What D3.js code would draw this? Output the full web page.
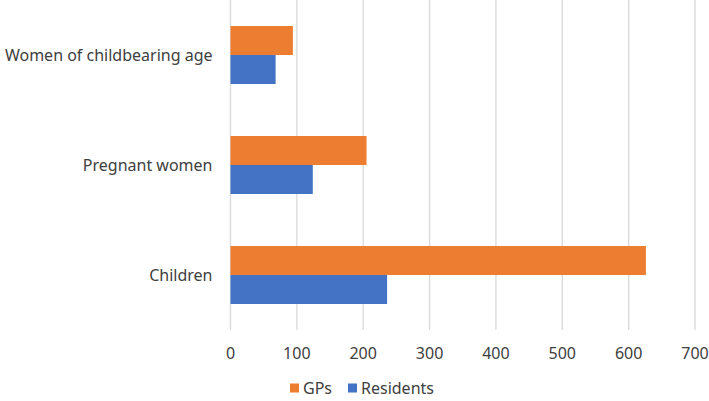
<!DOCTYPE html>
<html>
<head>
<meta charset="utf-8">
<script src="https://d3js.org/d3.v7.min.js"></script>
<style>
  body { margin: 0; background: #fff; }
  text { font-family: "Noto Sans", sans-serif; fill: #404040; }
</style>
</head>
<body>
<div id="chart"></div>
<script>
// data
var categories = ["Women of childbearing age", "Pregnant women", "Children"];
var seriesNames = ["GPs", "Residents"];
var gps = [94, 205, 626];
var residents = [68, 124, 236];
var xTicks = [0, 100, 200, 300, 400, 500, 600, 700];
var colors = ["#ED7D31", "#4472C4"];

var width = 709, height = 401;
var margin = {left: 230.5, right: 14, top: 0, bottom: 71};
var w = width - margin.left - margin.right;
var h = height - margin.top - margin.bottom;

var svg = d3.select("#chart").append("svg")
  .attr("width", width)
  .attr("height", height);

var g = svg.append("g")
  .attr("transform", "translate(" + margin.left + "," + margin.top + ")");

var xs = d3.scaleLinear().domain([0, 700]).range([0, w]);
var ys = d3.scaleBand().domain(categories).range([0, h])
  .paddingInner(0.4727).paddingOuter(0.4727 / 2);
var inner = d3.scaleBand().domain(seriesNames).range([0, ys.bandwidth()]);

// gridlines
g.selectAll("line.grid")
  .data(xTicks)
  .enter()
  .append("line")
  .attr("x1", function(d) { return xs(d); })
  .attr("x2", function(d) { return xs(d); })
  .attr("y1", 0)
  .attr("y2", h)
  .attr("stroke", "#d9d9d9")
  .attr("stroke-width", 1.3);

// tick labels
g.selectAll("text.tick")
  .data(xTicks)
  .enter()
  .append("text")
  .attr("x", function(d) { return xs(d); })
  .attr("y", h + 23)
  .attr("dy", "0.35em")
  .attr("text-anchor", "middle")
  .style("font-size", "16px")
  .text(function(d) { return d; });

var rows = categories.map(function(c, i) {
  return {cat: c, values: [gps[i], residents[i]]};
});

var group = g.selectAll("g.cat")
  .data(rows)
  .enter()
  .append("g")
  .attr("transform", function(d) { return "translate(0," + ys(d.cat) + ")"; });

group.selectAll("rect")
  .data(function(d) { return d.values.map(function(v, j) { return {name: seriesNames[j], v: v, j: j}; }); })
  .enter()
  .append("rect")
  .attr("x", xs(0))
  .attr("y", function(d) { return inner(d.name); })
  .attr("width", function(d) { return xs(d.v) - xs(0); })
  .attr("height", inner.bandwidth())
  .attr("fill", function(d) { return colors[d.j]; });

// category labels
g.selectAll("text.cat")
  .data(categories)
  .enter()
  .append("text")
  .attr("x", -18)
  .attr("y", function(d) { return ys(d) + ys.bandwidth() / 2; })
  .attr("dy", "0.35em")
  .attr("text-anchor", "end")
  .style("font-size", "16px")
  .text(function(d) { return d; });

// legend
var legendX = [290, 348];
var leg = svg.selectAll("g.legend")
  .data(seriesNames)
  .enter()
  .append("g")
  .attr("transform", function(d, i) { return "translate(" + legendX[i] + ",388)"; });

leg.append("rect")
  .attr("x", 0).attr("y", -4.5)
  .attr("width", 9).attr("height", 9)
  .attr("fill", function(d, i) { return colors[i]; });

leg.append("text")
  .attr("x", 13)
  .attr("dy", "0.35em")
  .style("font-size", "16px")
  .text(function(d) { return d; });
</script>
</body>
</html>
